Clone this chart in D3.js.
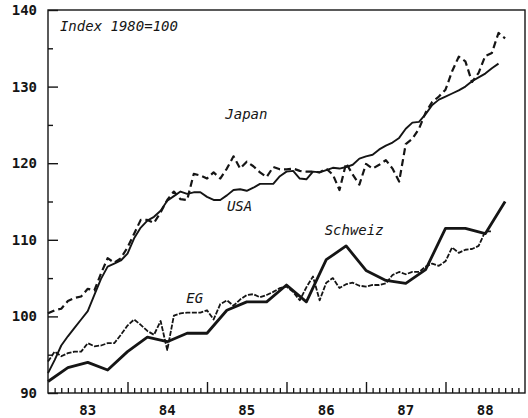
<!DOCTYPE html>
<html>
<head>
<meta charset="utf-8">
<script src="https://cdn.jsdelivr.net/npm/d3@7/dist/d3.min.js"></script>
<style>
    body { margin: 0; background: #fff; }
    svg text { font-family: "DejaVu Sans Mono", monospace; fill: #151515; }
</style>
</head>
<body>
<div id="chart"></div>
<script>
// year labels on the x axis (label sits in the middle of each year)
const yearLabels = ["83", "84", "85", "86", "87", "88"];
const yTicks = [90, 100, 110, 120, 130, 140];

// monthly values, starting January 1983 (index 1980 = 100)
const japan = [100.4, 100.8, 101.0, 102.0, 102.4, 102.6, 103.6, 103.4, 105.6, 107.6, 107.0, 107.6,
    109.0, 110.8, 112.6, 112.6, 112.2, 113.6, 115.2, 116.3, 115.3, 115.2, 118.6, 118.4,
    118.0, 118.8, 118.0, 119.3, 120.9, 119.3, 120.2, 119.6, 118.8, 118.2, 119.5, 119.2,
    119.2, 119.3, 119.0, 118.9, 118.9, 118.8, 119.3, 118.5, 116.5, 120.0, 118.5, 117.2,
    119.9, 119.3, 119.8, 120.4, 119.3, 117.6, 122.5, 123.2, 124.5, 126.6, 128.0, 128.7,
    129.6, 132.0, 133.9, 133.3, 130.6, 131.8, 134.0, 134.4, 137.0, 136.3];

const usa = [92.6, 94.3, 96.2, 97.4, 98.5, 99.6, 100.7, 102.8, 104.9, 106.5, 106.9, 107.3,
    108.2, 110.2, 111.6, 112.5, 113.0, 113.8, 115.1, 115.7, 116.3, 116.0, 116.2, 116.2,
    115.6, 115.2, 115.2, 115.8, 116.5, 116.6, 116.4, 116.8, 117.3, 117.3, 117.3, 118.3,
    118.9, 119.0, 118.0, 117.9, 118.9, 118.8, 119.1, 119.4, 119.3, 119.5, 119.8, 120.6,
    120.9, 121.1, 121.8, 122.3, 122.7, 123.3, 124.5, 125.3, 125.4, 126.4, 127.6, 128.3,
    128.7, 129.1, 129.5, 130.0, 130.7, 131.2, 131.7, 132.4, 133.0];

const eg = [94.1, 95.4, 94.8, 95.2, 95.4, 95.4, 96.5, 96.1, 96.2, 96.5, 96.5, 97.6,
    98.8, 99.6, 98.9, 98.1, 97.6, 99.4, 95.6, 100.1, 100.4, 100.5, 100.5, 100.5,
    100.8, 99.6, 101.6, 102.1, 101.4, 102.2, 102.8, 102.9, 102.5, 102.8, 103.2, 103.7,
    103.9, 103.2, 102.1, 103.8, 105.2, 102.1, 104.4, 105.0, 103.7, 104.2, 104.4, 104.0,
    103.9, 104.1, 104.1, 104.3, 105.4, 105.8, 105.5, 105.8, 105.8, 106.5, 106.9, 106.6,
    107.2, 109.0, 108.3, 108.7, 108.8, 109.2, 111.1, 111.1];

// quarterly values, starting 1983 Q1
const schweiz = [91.5, 93.3, 94.0, 93.0, 95.4, 97.3, 96.7, 97.8,
    97.8, 100.8, 101.9, 101.9, 104.1, 101.9, 107.4, 109.2,
    106.0, 104.7, 104.3, 106.1, 111.5, 111.5, 110.8, 115.0];

const width = 528;
const height = 418;
const svg = d3.select("#chart").append("svg").attr("width", width).attr("height", height);

const x = d3.scaleLinear().domain([1983, 1989]).range([48, 525]);
const y = d3.scaleLinear().domain([90, 140]).range([393, 10]);

const ink = "#151515";

// frame
svg.append("rect")
    .attr("x", x(1983)).attr("y", y(140))
    .attr("width", x(1989) - x(1983)).attr("height", y(90) - y(140))
    .attr("fill", "none").attr("stroke", ink).attr("stroke-width", 1.4);

// y axis: major ticks inward, minor halfway ticks
const yAxis = d3.axisRight(y).tickValues(yTicks).tickSize(10).tickFormat("");
svg.append("g").attr("transform", `translate(${x(1983)},0)`).call(yAxis)
    .call(g => g.select(".domain").remove())
    .call(g => g.selectAll("line").attr("stroke", ink).attr("stroke-width", 1.4));
const yMinor = d3.axisRight(y).tickValues([95, 105, 115, 125, 135]).tickSize(5).tickFormat("");
svg.append("g").attr("transform", `translate(${x(1983)},0)`).call(yMinor)
    .call(g => g.select(".domain").remove())
    .call(g => g.selectAll("line").attr("stroke", ink).attr("stroke-width", 1.4));

svg.append("g").selectAll("text").data(yTicks).enter().append("text")
    .attr("x", 37)
    .attr("y", d => y(d))
    .attr("dy", "0.36em")
    .attr("text-anchor", "end")
    .style("font-size", "14px")
    .style("font-weight", "bold")
    .text(d => d);

// x axis: monthly ticks up from the bottom, longer ticks at year boundaries
const months = d3.range(1, 72).map(i => 1983 + i / 12);
const xMinor = d3.axisTop(x).tickValues(months.filter((d, i) => (i + 1) % 12 !== 0)).tickSize(5).tickFormat("");
svg.append("g").attr("transform", `translate(0,${y(90)})`).call(xMinor)
    .call(g => g.select(".domain").remove())
    .call(g => g.selectAll("line").attr("stroke", ink).attr("stroke-width", 1.3));
const xMajor = d3.axisTop(x).tickValues([1984, 1985, 1986, 1987, 1988]).tickSize(11).tickFormat("");
svg.append("g").attr("transform", `translate(0,${y(90)})`).call(xMajor)
    .call(g => g.select(".domain").remove())
    .call(g => g.selectAll("line").attr("stroke", ink).attr("stroke-width", 1.4));

svg.append("g").selectAll("text").data(yearLabels).enter().append("text")
    .attr("x", (d, i) => x(1983.5 + i))
    .attr("y", 415)
    .attr("text-anchor", "middle")
    .style("font-size", "14px")
    .style("font-weight", "bold")
    .text(d => d);

// series
const monthly = values => values.map((v, i) => [1983 + i / 12, v]);
const quarterly = values => values.map((v, i) => [1983 + i / 4, v]);
const line = d3.line().x(d => x(d[0])).y(d => y(d[1]));

const series = [
    { data: monthly(usa), width: 1.9, dash: null },
    { data: monthly(japan), width: 2.2, dash: "7,4" },
    { data: monthly(eg), width: 1.8, dash: "5,1.5" },
    { data: quarterly(schweiz), width: 2.8, dash: null }
];

series.forEach(s => {
    svg.append("path")
        .datum(s.data)
        .attr("d", line)
        .attr("fill", "none")
        .attr("stroke", ink)
        .attr("stroke-width", s.width)
        .attr("stroke-linejoin", "round")
        .attr("stroke-dasharray", s.dash);
});

// labels
const labels = [
    { text: "Index 1980=100", t: 1983.15, v: 137.3 },
    { text: "Japan", t: 1985.23, v: 125.8 },
    { text: "USA", t: 1985.25, v: 113.7 },
    { text: "EG", t: 1984.74, v: 101.75 },
    { text: "Schweiz", t: 1986.48, v: 110.6 }
];
svg.append("g").selectAll("text").data(labels).enter().append("text")
    .attr("x", d => x(d.t))
    .attr("y", d => y(d.v))
    .style("font-size", "14px")
    .style("font-style", "italic")
    .text(d => d.text);
</script>
</body>
</html>
